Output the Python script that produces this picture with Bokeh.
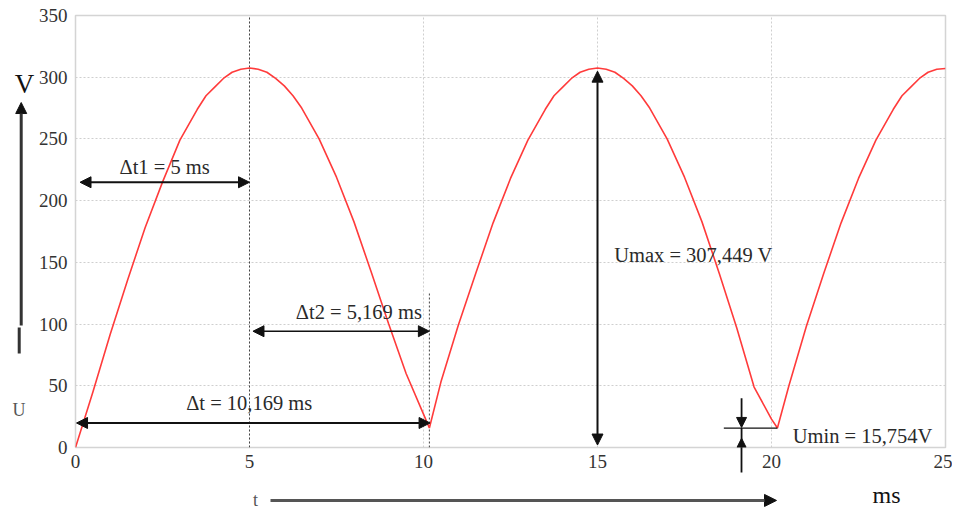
from bokeh.plotting import figure
from bokeh.layouts import row, column
from bokeh.models import Range1d, Arrow, NormalHead, Label, FixedTicker
from bokeh.embed import file_html
from bokeh.resources import INLINE

# ---- data ----
t_ms = [0, 0.5, 1, 1.5, 2, 2.5, 3, 3.5, 3.75, 4, 4.25, 4.5, 4.75, 5,
        5.25, 5.5, 5.75, 6, 6.25, 6.5, 7, 7.5, 8, 8.5, 9, 9.5, 10, 10.169,
        10.5, 11, 11.5, 12, 12.5, 13, 13.5, 13.75, 14, 14.25, 14.5, 14.75, 15,
        15.25, 15.5, 15.75, 16, 16.25, 16.5, 17, 17.5, 18, 18.5, 19, 19.5, 20, 20.17,
        20.5, 21, 21.5, 22, 22.5, 23, 23.5, 23.75, 24, 24.25, 24.5, 24.75, 25]
u_v = [0, 45, 92, 136, 178, 215, 249, 274, 285, 292, 299, 304, 306.5, 307.4,
       306.5, 304, 299, 293, 285, 275, 250, 219, 183, 142, 100, 60, 27, 15.754,
       53, 99, 141, 182, 218, 249, 274, 285, 292, 299, 304, 306.5, 307.4,
       306.5, 304, 299, 293, 285, 275, 250, 219, 183, 141, 97, 49, 23, 15.754,
       50, 98, 141, 182, 218, 249, 274, 285, 292, 299, 304, 306.5, 307]

x_ticks = [0, 5, 10, 15, 20, 25]
y_ticks = [0, 50, 100, 150, 200, 250, 300, 350]

T_PEAK1 = 5.0
T_MIN1 = 10.169
T_PEAK2 = 15.0
T_MIN2 = 20.17
U_MAX = 307.449
U_MIN = 15.754
T_UMIN_MARK = 19.14

SERIF = "Liberation Serif"
INK = "#111111"
TXT = "#2a2a2a"
TICK = "#333333"
ANN = "20.5px"

# ---------------- main chart ----------------
y_rng = Range1d(0, 350)
p = figure(width=917, height=477, x_range=Range1d(0, 25), y_range=y_rng,
           output_backend="svg", toolbar_location=None,
           min_border_left=37, min_border_right=7, min_border_top=15, min_border_bottom=30)
p.background_fill_color = "white"
p.border_fill_color = "white"
p.outline_line_color = "#d4d4d4"
p.outline_line_width = 1.5

p.xaxis.ticker = FixedTicker(ticks=x_ticks, minor_ticks=[T_UMIN_MARK])
p.yaxis.ticker = FixedTicker(ticks=y_ticks, minor_ticks=[])
for ax in (p.xaxis, p.yaxis):
    ax.axis_line_color = None
    ax.major_tick_line_color = None
    ax.major_tick_out = 0
    ax.major_tick_in = 0
    ax.minor_tick_in = 0
    ax.major_label_text_font = SERIF
    ax.major_label_text_font_size = "19px"
    ax.major_label_text_color = TICK
p.yaxis.major_label_standoff = 8
p.yaxis.minor_tick_line_color = None
p.yaxis.minor_tick_out = 0
# lower part of the Umin marker, below the plot box (a single minor tick)
p.xaxis.minor_tick_out = 25
p.xaxis.minor_tick_line_color = INK
p.xaxis.minor_tick_line_width = 1.8
p.xaxis.major_label_standoff = -18

p.xgrid.ticker = FixedTicker(ticks=x_ticks)
p.ygrid.ticker = FixedTicker(ticks=y_ticks)
for g in (p.xgrid, p.ygrid):
    g.grid_line_color = "#cfcfcf"
    g.grid_line_dash = "2 2"
    g.grid_line_width = 1

# dotted markers
p.segment(x0=[T_PEAK1, T_MIN1], y0=[0, 0], x1=[T_PEAK1, T_MIN1], y1=[350, 125.6],
          line_color="#444444", line_dash="2 2", line_width=1)

# curve
p.line(t_ms, u_v, line_color="#ff3b3b", line_width=1.6)


def head(size=11):
    return NormalHead(size=size, fill_color=INK, line_color=INK, line_width=1)


def arrow(fig, x0, y0, x1, y1, w=2.0, both=True, end=True, color=INK, size=11):
    fig.add_layout(Arrow(x_start=x0, y_start=y0, x_end=x1, y_end=y1,
                         start=head(size) if both else None,
                         end=head(size) if end else None,
                         line_color=color, line_width=w))


def label(fig, x, y, text, size=ANN, color=TXT, align="left"):
    fig.add_layout(Label(x=x, y=y, text=text, text_font=SERIF, text_font_size=size,
                         text_color=color, text_align=align, text_baseline="middle"))


# Δt1, Δt2, Δt, Umax
arrow(p, 0.13, 214.9, T_PEAK1, 214.9, w=2.2)
arrow(p, T_PEAK1 + 0.1, 94.2, T_MIN1, 94.2, w=1.6)
arrow(p, 0.03, 19.85, T_MIN1 + 0.02, 19.85, w=2)
arrow(p, T_PEAK2, 2, T_PEAK2, 304.9, w=2)
# Umin marks
p.segment(x0=[18.63], y0=[U_MIN], x1=[T_MIN2], y1=[U_MIN], line_color=INK, line_width=1.3)
arrow(p, T_UMIN_MARK, 39.9, T_UMIN_MARK, U_MIN + 0.5, w=1.8, both=False, size=10)
arrow(p, T_UMIN_MARK, U_MIN, T_UMIN_MARK, 0, w=1.8, both=False, end=False)
arrow(p, T_UMIN_MARK, -2, T_UMIN_MARK, 7.5, w=1.8, both=False, size=9)

label(p, 2.56, 227.1, "Δt1 = 5 ms", align="center")
label(p, 6.33, 109.4, "Δt2 = 5,169 ms")
label(p, 3.18, 35.9, "Δt = 10,169 ms")
label(p, 15.48, 155.6, "Umax = 307,449 V")
label(p, 20.61, 9.7, "Umin = 15,754V")

# ---------------- left strip: V, arrow, U (frame aligned with the chart) ----------------
ls = figure(width=35, height=477, x_range=Range1d(-2.062, -1.0596), y_range=y_rng,
            x_axis_type=None, y_axis_type=None, output_backend="svg", toolbar_location=None,
            min_border=0)
ls.outline_line_color = None
ls.background_fill_color = "white"
ls.border_fill_color = "white"
ls.xgrid.visible = False
ls.ygrid.visible = False
label(ls, -1.375, 294.9, "V", size="27px", color=INK, align="center")
arrow(ls, -1.469, 98.8, -1.469, 279.5, w=3, both=False, color="#333333", size=11)
arrow(ls, -1.526, 97.2, -1.526, 76.2, w=3, both=False, end=False, color="#333333")
label(ls, -1.532, 30.0, "U", size="18px", color="#555555", align="center")

# ---------------- bottom strip: t --> ms ----------------
bs = figure(width=952, height=35, x_range=Range1d(-2.062, 25.2), y_range=Range1d(-52.66, -24.31),
            x_axis_type=None, y_axis_type=None, output_backend="svg", toolbar_location=None,
            min_border=0)
bs.outline_line_color = None
bs.background_fill_color = "white"
bs.border_fill_color = "white"
label(bs, 5.24, -42.9, "t", size="18px", color="#555555", align="center")
arrow(bs, 5.67, -42.9, 20.16, -42.9, w=3, both=False, color="#555555", size=12)
label(bs, 23.31, -38.1, "ms", size="24px", color=INK, align="center")

layout = column(row(ls, p, spacing=0), bs, spacing=0)
open("out.html", "w").write(file_html(layout, INLINE))
